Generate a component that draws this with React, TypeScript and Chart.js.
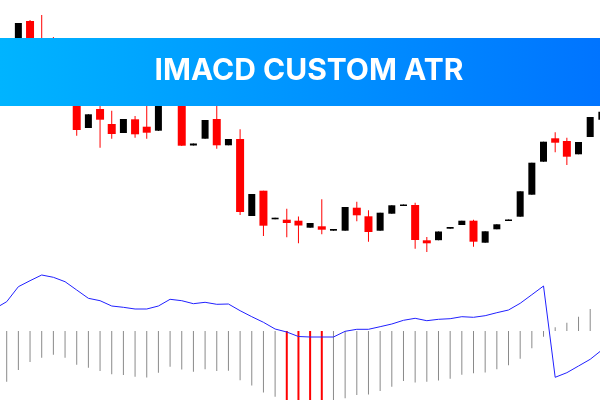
import React, { useEffect, useRef } from "react";
import { Chart, registerables } from "chart.js";

Chart.register(...registerables);

// Candle data (one entry per bar, oldest first)
const opens = [
  114.0, 115.5, 119.0, 122.9, 120.5, 120.0, 117.2, 115.8, 112.2, 114.1,
  112.6, 111.7, 113.07, 112.33, 111.93, 115.6, 114.9, 110.45, 111.13, 113.1,
  110.47, 111.1, 103.4, 105.93, 103.07, 103.03, 102.93, 102.23, 102.37, 101.93,
  101.93, 104.23, 103.37, 101.93, 103.63, 104.4, 104.5, 100.97, 100.98, 102.13,
  102.5, 102.93, 100.73, 102.07, 102.9, 103.33, 105.53, 108.83, 111.17, 110.9,
  109.57, 111.3, 113.03,
];
const highs = [
  116.0, 120.0, 122.7, 123.0, 123.5, 121.3, 117.8, 116.2, 113.57, 115.0,
  113.93, 113.1, 113.4, 114.6, 115.6, 116.0, 115.1, 110.65, 113.0, 114.6,
  111.1, 112.07, 105.6, 105.93, 103.23, 104.13, 103.35, 102.7, 105.07, 102.1,
  104.3, 104.83, 103.97, 103.73, 104.47, 104.55, 104.73, 101.3, 101.85, 102.3,
  102.93, 103.03, 101.87, 102.57, 103.05, 105.87, 108.73, 110.83, 111.77, 111.23,
  110.8, 113.3, 113.83,
];
const lows = [
  113.5, 115.0, 118.8, 119.5, 117.5, 116.2, 115.0, 111.43, 112.2, 110.23,
  111.13, 111.7, 111.23, 111.13, 111.9, 114.6, 110.4, 110.45, 111.13, 110.13,
  110.47, 103.5, 103.4, 101.4, 103.07, 101.27, 100.67, 102.23, 101.57, 101.93,
  101.93, 102.87, 100.83, 101.93, 103.63, 104.4, 100.13, 99.8, 100.98, 102.13,
  102.5, 100.33, 100.73, 102.07, 102.9, 103.33, 105.53, 108.83, 109.77, 108.5,
  109.57, 111.3, 113.03,
];
const closes = [
  115.5, 119.5, 122.7, 120.0, 118.0, 117.0, 115.5, 112.0, 113.57, 113.03,
  111.6, 113.1, 111.57, 111.73, 115.4, 114.7, 110.43, 110.65, 113.0, 110.47,
  111.1, 103.8, 105.6, 102.43, 103.23, 102.7, 102.45, 102.7, 102.03, 102.1,
  104.3, 103.47, 101.8, 103.73, 104.47, 104.55, 101.0, 100.67, 101.85, 102.3,
  102.93, 100.83, 101.87, 102.57, 103.05, 105.87, 108.73, 110.83, 110.73, 109.33,
  110.8, 113.3, 113.83,
];

// Indicator pane: histogram and signal line
const histogram = [
  -5.8, -5.07, -3.9, -3.1, -2.67, -2.38, -2.67, -3.38, -3.67, -4.0,
  -4.33, -4.4, -4.57, -4.65, -4.17, -3.57, -3.85, -4.07, -3.83, -4.0,
  -3.98, -4.92, -5.45, -6.15, -6.57, -7.3, -7.6, -7.5, -7.25, -6.95,
  -6.73, -6.4, -6.35, -6.0, -5.57, -5.0, -5.15, -5.07, -4.95, -4.77,
  -4.37, -4.23, -4.15, -3.83, -3.43, -2.77, -1.73, -0.57, 0.37, 0.83,
  1.43, 2.2, 3.0,
];
const signalLine = [
  2.25, 2.93, 4.43, 5.03, 5.6, 5.37, 4.93, 4.1, 3.27, 3.03,
  2.5, 2.37, 2.2, 2.2, 2.5, 3.17, 3.03, 2.73, 2.87, 2.67,
  2.7, 2.03, 1.43, 0.87, 0.2, -0.1, -0.55, -0.6, -0.6, -0.6,
  -0.03, 0.17, 0.17, 0.43, 0.7, 1.07, 1.27, 1.03, 1.17, 1.23,
  1.43, 1.37, 1.53, 1.83, 2.1, 2.77, 3.63, 4.5, -4.63, -4.17,
  -3.5, -2.83, -1.9,
];
const atrThreshold = -7.1;
const bannerTitle = "IMACD CUSTOM ATR";

export default function App() {
  const ref = useRef<HTMLCanvasElement>(null);

  useEffect(() => {
    if (!ref.current) return;
    const idx = opens.map((_, k) => k);
    const bull = (k: number) => closes[k] >= opens[k];
    const redK = idx.filter((k) => !bull(k));
    const blackK = idx.filter((k) => bull(k));

    const common = { grouped: false, inflateAmount: 0, borderWidth: 0, yAxisID: "yPrice" };

    const bannerPlugin = {
      id: "banner",
      afterDraw(chart: any) {
        const ctx = chart.ctx as CanvasRenderingContext2D;
        const w = chart.width;
        ctx.save();
        const g = ctx.createLinearGradient(0, 0, w, 0);
        g.addColorStop(0, "#00b4ff");
        g.addColorStop(1, "#0074ff");
        ctx.fillStyle = g;
        ctx.fillRect(0, 38, w, 68);
        ctx.fillStyle = "#ffffff";
        ctx.font = "bold 30px Inter, 'Open Sans', sans-serif";
        ctx.textAlign = "center";
        ctx.textBaseline = "alphabetic";
        ctx.fillText(bannerTitle, 309, 80);
        ctx.restore();
      },
    };

    const chart = new Chart(ref.current, {
      type: "bar",
      data: {
        datasets: [
          {
            type: "line",
            data: idx.map((k) => ({ x: k, y: signalLine[k] })),
            yAxisID: "yInd",
            borderColor: "#2020ff",
            borderWidth: 1,
            pointRadius: 0,
            tension: 0,
            order: 0,
          } as any,
          {
            ...common,
            data: redK.map((k) => ({ x: k, y: [opens[k], closes[k]] })),
            backgroundColor: "#ff0000",
            barThickness: 8,
            order: 1,
          },
          {
            ...common,
            data: blackK.map((k) => ({ x: k, y: [opens[k], closes[k]] })),
            backgroundColor: "#000000",
            barThickness: 7,
            order: 1,
          },
          {
            ...common,
            data: redK.map((k) => ({ x: k, y: [lows[k], highs[k]] })),
            backgroundColor: "#ff0000",
            barThickness: 1,
            order: 2,
          },
          {
            ...common,
            data: blackK.map((k) => ({ x: k, y: [lows[k], highs[k]] })),
            backgroundColor: "#000000",
            barThickness: 1,
            order: 2,
          },
          {
            ...common,
            yAxisID: "yInd",
            data: idx.filter((k) => histogram[k] >= atrThreshold).map((k) => ({ x: k, y: histogram[k] })),
            backgroundColor: "#8a8a8a",
            barThickness: 1,
            order: 3,
          },
          {
            ...common,
            yAxisID: "yInd",
            data: idx.filter((k) => histogram[k] < atrThreshold).map((k) => ({ x: k, y: histogram[k] })),
            backgroundColor: "#ff0000",
            barThickness: 2,
            order: 3,
          },
        ] as any,
      },
      options: {
        responsive: false,
        animation: false,
        events: [],
        layout: { padding: 0 },
        plugins: { legend: { display: false }, tooltip: { enabled: false }, title: { display: false } },
        scales: {
          x: { type: "linear", display: false, offset: false, min: 0.426, max: 51.84 },
          yPrice: { axis: "y", type: "linear", display: false, min: 85, max: 125 },
          yInd: { axis: "y", type: "linear", display: false, min: -6.9, max: 33.1 },
        } as any,
      },
      plugins: [bannerPlugin],
    });
    return () => chart.destroy();
  }, []);

  return (
    <div style={{ position: "absolute", left: 0, top: 0, width: 600, height: 400, background: "#fff" }}>
      <canvas ref={ref} width={600} height={400} style={{ display: "block" }} />
    </div>
  );
}
